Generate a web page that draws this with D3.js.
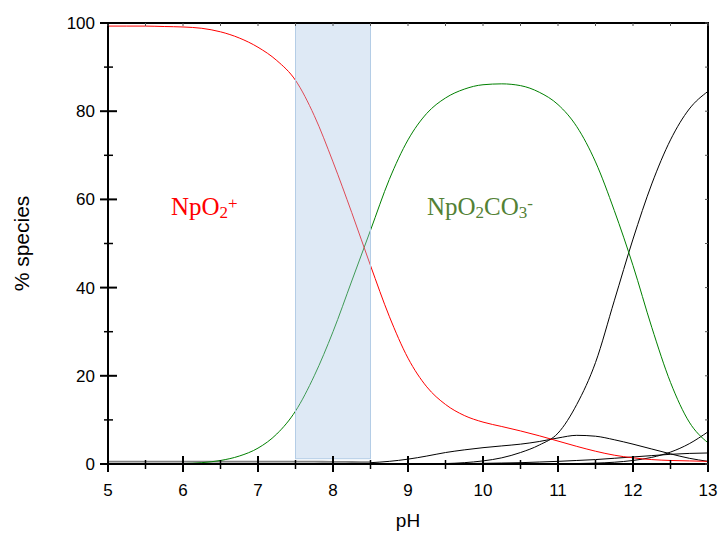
<!DOCTYPE html>
<html><head><meta charset="utf-8">
<script src="https://cdn.jsdelivr.net/npm/d3@7"></script>
<style>body{margin:0;background:#fff}</style>
</head><body>
<script>
const pH = [5,5.25,5.5,5.75,6,6.25,6.5,6.75,7,7.25,7.5,7.75,8,8.25,8.5,8.75,9,9.25,9.5,9.75,10,10.25,10.5,10.75,11,11.25,11.5,11.75,12,12.25,12.5,12.75,13];
const npo2 = [99.3,99.3,99.3,99.2,99.1,98.8,98.0,96.6,94.5,91.5,87,79,68.5,57,45,33.5,24,17.5,13.5,11,9.5,8.5,7.5,6.4,5.2,4.0,2.9,2.0,1.4,1.0,0.8,0.7,0.6];
const npo2co3 = [0,0,0,0.05,0.1,0.3,0.8,1.8,3.6,6.8,12,20,30,41.5,53,64.5,73.5,79.5,83,85,86,86.2,85.8,84.3,81.5,76.5,68.5,57.5,45,31,18.5,9.5,4.8];
const dicarb = [0,0,0,0,0,0,0,0,0,0,0,0,0,0,0,0,0,0.02,0.1,0.3,0.7,1.4,2.6,4.3,7,13.5,23,37,51,63.5,73.5,80.5,84.5];
const hump = [null,null,null,null,null,null,null,null,null,null,null,null,null,null,0.3,0.6,1.1,1.8,2.6,3.2,3.7,4.1,4.5,5.1,5.9,6.5,6.3,5.5,4.5,3.4,2.3,1.3,0.6];
const flat = [null,null,null,null,null,null,null,null,null,null,null,null,null,null,null,null,null,null,0.05,0.1,0.15,0.22,0.3,0.45,0.6,0.8,1.0,1.3,1.6,1.9,2.2,2.4,2.5];
const steep = [null,null,null,null,null,null,null,null,null,null,null,null,null,null,null,null,null,null,null,null,null,null,null,null,0.05,0.1,0.2,0.4,0.8,1.5,2.7,4.6,7.3];
const trace = [0.55,0.55,0.55,0.55,0.55,0.55,0.55,0.55,0.55,0.55,0.55,0.52,0.5,0.45,0.4,null,null,null,null,null,null,null,null,null,null,null,null,null,null,null,null,null,null];
const band = [7.5, 8.5];
const bandRange = [1.2, 100];
const xMajor = [5,6,7,8,9,10,11,12,13];
const xMinor = [5.5,6.5,7.5,8.5,9.5,10.5,11.5,12.5];
const yMajor = [0,20,40,60,80,100];
const yMinor = [10,30,50,70,90];

const W = 723, H = 536;
const x = d3.scaleLinear().domain([5,13]).range([108,708]);
const y = d3.scaleLinear().domain([0,100]).range([464,23]);
const svg = d3.select("body").append("svg").attr("width",W).attr("height",H);

const line = vals => d3.line()
  .defined((d,i)=>vals[i]!==null)
  .x((d,i)=>x(pH[i])).y((d,i)=>y(vals[i]))
  .curve(d3.curveMonotoneX)(pH);

function drawSeries(vals, color, w){
  svg.append("path").attr("d", line(vals)).attr("fill","none")
    .attr("stroke",color).attr("stroke-width",w);
}
drawSeries(trace, "#808080", 1.8);
drawSeries(flat, "#000", 1);
drawSeries(steep, "#000", 1);
drawSeries(hump, "#000", 1);
drawSeries(dicarb, "#000", 1);
drawSeries(npo2co3, "#008000", 1);
drawSeries(npo2, "#ff0000", 1);

// shaded pH band
svg.append("rect")
  .attr("x", x(band[0])).attr("width", x(band[1])-x(band[0]))
  .attr("y", y(bandRange[1])).attr("height", y(bandRange[0])-y(bandRange[1]))
  .attr("fill","#a7c6e6").attr("fill-opacity",0.38)
  .attr("stroke","#b4cde6").attr("stroke-width",1);

// frame
const g = svg.append("g").attr("stroke","#000");
g.append("line").attr("x1",x(5)).attr("x2",x(13)).attr("y1",y(0)).attr("y2",y(0)).attr("stroke-width",2);
g.append("line").attr("x1",x(5)).attr("x2",x(13)).attr("y1",y(100)).attr("y2",y(100)).attr("stroke-width",2);
g.append("line").attr("x1",x(5)).attr("x2",x(5)).attr("y1",y(0)+1).attr("y2",y(100)-1).attr("stroke-width",2);
g.append("line").attr("x1",x(13)).attr("x2",x(13)).attr("y1",y(0)+1).attr("y2",y(100)-1).attr("stroke-width",2);

// bottom ticks
xMajor.forEach(v=>g.append("line").attr("x1",x(v)).attr("x2",x(v)).attr("y1",y(0)-8).attr("y2",y(0)+8).attr("stroke-width",2));
xMinor.forEach(v=>g.append("line").attr("x1",x(v)).attr("x2",x(v)).attr("y1",y(0)-4).attr("y2",y(0)+5).attr("stroke-width",1.5));
// top ticks (small inward)
xMajor.concat(xMinor).forEach(v=>g.append("line").attr("x1",x(v)).attr("x2",x(v)).attr("y1",y(100)).attr("y2",y(100)+3).attr("stroke-width",1).attr("stroke","#555"));
// left ticks
yMajor.forEach(v=>g.append("line").attr("y1",y(v)).attr("y2",y(v)).attr("x1",x(5)-8).attr("x2",x(5)+9).attr("stroke-width",2));
yMinor.forEach(v=>g.append("line").attr("y1",y(v)).attr("y2",y(v)).attr("x1",x(5)-4).attr("x2",x(5)+5).attr("stroke-width",1.5));
// right ticks small inward
yMajor.concat(yMinor).forEach(v=>g.append("line").attr("y1",y(v)).attr("y2",y(v)).attr("x1",x(13)-3).attr("x2",x(13)).attr("stroke-width",1).attr("stroke","#555"));

// tick labels
const font = "Liberation Sans, Arial, sans-serif";
svg.selectAll(".xl").data(xMajor).enter().append("text")
  .attr("x",d=>x(d)).attr("y",y(0)+32).attr("text-anchor","middle")
  .attr("font-family",font).attr("font-size",17).attr("fill","#000").text(d=>d);
svg.selectAll(".yl").data(yMajor).enter().append("text")
  .attr("x",x(5)-13).attr("y",d=>y(d)+6).attr("text-anchor","end")
  .attr("font-family",font).attr("font-size",17).attr("fill","#000").text(d=>d);

// axis titles
svg.append("text").attr("x",(x(5)+x(13))/2).attr("y",527).attr("text-anchor","middle")
  .attr("font-family",font).attr("font-size",19).text("pH");
svg.append("text").attr("transform",`translate(29,${(y(0)+y(100))/2}) rotate(-90)`)
  .attr("text-anchor","middle").attr("font-family",font).attr("font-size",21).text("% species");

// species labels
const serif = "Liberation Serif, Times New Roman, serif";
function chem(xp, yp, color, parts){
  const t = svg.append("text").attr("x",xp).attr("y",yp).attr("font-family",serif)
    .attr("font-size",25).attr("fill",color);
  parts.forEach(p=>{
    const s = t.append("tspan").text(p.t);
    if(p.sub) s.attr("font-size",17).attr("dy",3);
    if(p.sup) s.attr("font-size",17).attr("dy",-9);
    if(p.back) s.attr("dy",p.back);
  });
}
chem(171, 215, "#ff0000", [{t:"NpO"},{t:"2",sub:true},{t:"+",sup:true}]);
chem(427, 215, "#538135", [{t:"NpO"},{t:"2",sub:true},{t:"CO",back:-3},{t:"3",sub:true},{t:"-",sup:true}]);
</script>
</body></html>
